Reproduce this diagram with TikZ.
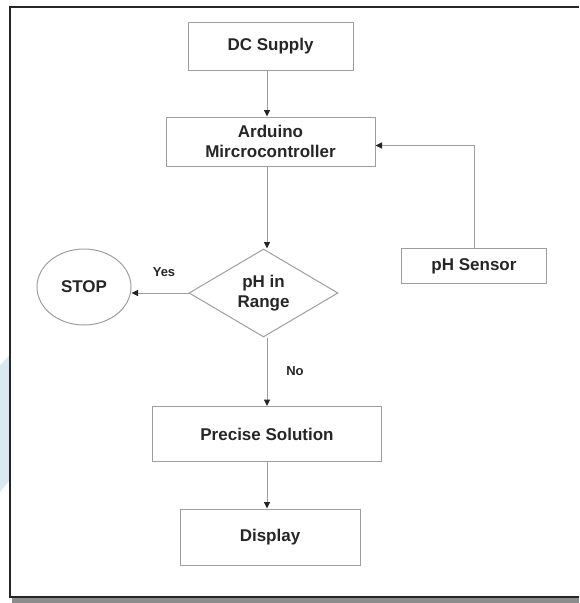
\documentclass[tikz,border=0pt]{standalone}
\usepackage{fontspec}
\setmainfont{Liberation Sans}
\usetikzlibrary{shapes.geometric,arrows.meta}
\definecolor{boxline}{HTML}{9E9E9E}
\definecolor{txt}{HTML}{262626}
\definecolor{wm}{HTML}{D8E9F2}
\tikzset{
  blk/.style={draw=boxline, line width=1pt, minimum width=#1, inner sep=0pt, font=\fontsize{17}{20.5}\selectfont\bfseries, text=txt, align=center},
  conn/.style={draw=boxline, line width=1pt, -{Triangle[length=6.5pt,width=6pt,fill=black!85,color=black!85]}},
  lbl/.style={font=\fontsize{13}{15}\selectfont\bfseries, text=txt}
}
\begin{document}
\begin{tikzpicture}[x=1pt,y=-1pt]
\useasboundingbox (0,0) rectangle (579,603);
% decorations outside the frame
\fill[wm] (0,365) -- (10,355) -- (10,480) -- (0,492) -- cycle;
\fill[black!45] (12,597) rectangle (579,603);
% frame
\draw[black!85, line width=1.3pt] (579,7) -- (10,7) -- (10,597) -- (579,597);
% nodes
\node[blk=165pt, minimum height=48pt] (dc) at (270.5,46) {DC Supply};
\node[blk=209pt, minimum height=49pt] (ard) at (270.5,141.5) {Arduino\\Mircrocontroller};
\node[blk=145pt, minimum height=35pt] (sen) at (474,266) {pH Sensor};
\node[draw=boxline, line width=1pt, diamond, aspect=1.7, minimum width=149pt, minimum height=88pt, inner sep=0pt, font=\fontsize{17}{20.5}\selectfont\bfseries, text=txt, align=center] (dia) at (263.5,293) {pH in\\Range};
\node[draw=boxline, line width=1pt, ellipse, minimum width=94pt, minimum height=76pt, inner sep=0pt, font=\fontsize{17}{20}\selectfont\bfseries, text=txt] (stop) at (84,287) {STOP};
\node[blk=229pt, minimum height=55pt] (pre) at (267,434) {Precise Solution};
\node[blk=180pt, minimum height=56pt] (dis) at (270,537) {Display};
% connectors
\draw[conn] (dc.south -| 267,0) -- (ard.north -| 267,0);
\draw[conn] (ard.south -| 267,0) -- (dia.north -| 267,0);
\draw[conn] (sen.north) |- (ard.east |- 0,145.5);
\draw[conn] (dia.west) -- (stop.east |- dia.west);
\draw[conn] (dia.south -| 267,0) -- (pre.north -| 267,0);
\draw[conn] (pre.south -| 267,0) -- (dis.north -| 267,0);
% labels
\node[lbl] (yes) at (164,272) {Yes};
\node[lbl] (no) at (295,371) {No};
\end{tikzpicture}
\end{document}
